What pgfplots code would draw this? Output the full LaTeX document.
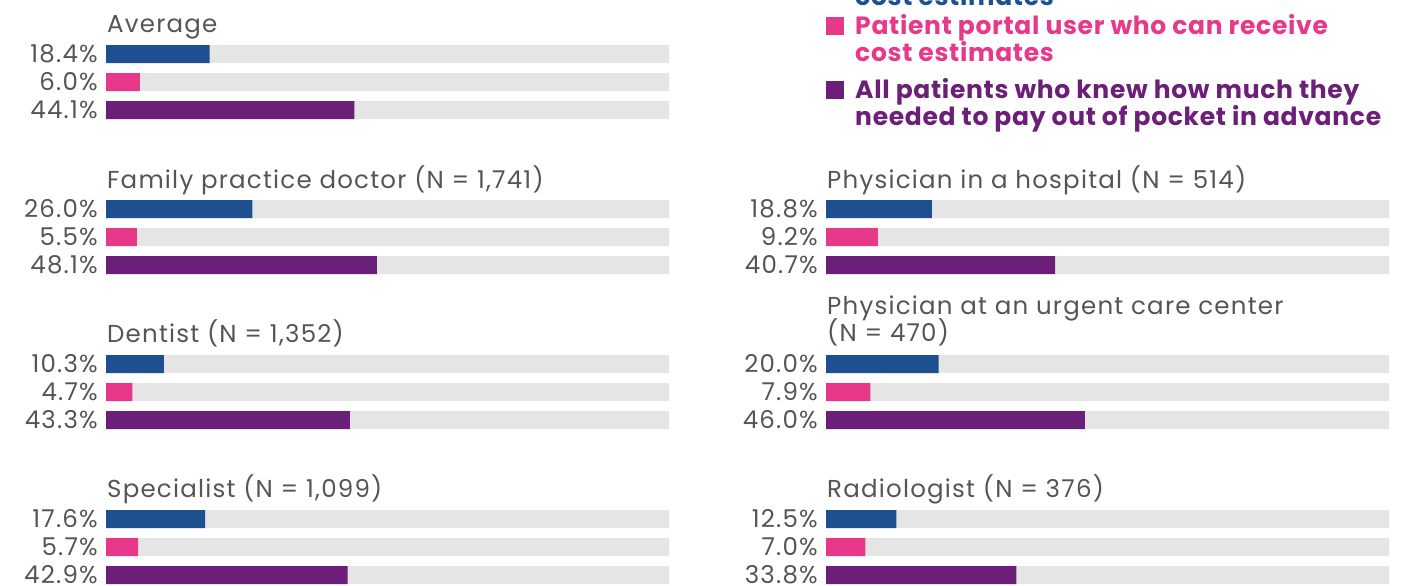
\documentclass[border=0pt]{standalone}
\usepackage{fontspec}
\setmainfont{Poppins}[Numbers=Monospaced]
\newfontfamily\labfont{Poppins}[LetterSpace=5, Numbers=Monospaced]
\newfontfamily\legfont{Poppins Bold}[LetterSpace=2.8]
\usepackage{pgfplots}
\pgfplotsset{compat=1.18}
\definecolor{cblue}{HTML}{1D4F91}
\definecolor{cpink}{HTML}{E8388A}
\definecolor{cpurple}{HTML}{6C1F78}
\definecolor{cbg}{HTML}{E5E5E5}
\definecolor{ctext}{HTML}{555555}

\pgfplotsset{
  panel/.style={
    scale only axis, width=563pt, height=586pt,
    xmin=0, xmax=100, ymin=0, ymax=586, y dir=reverse,
    axis line style={draw=none}, xtick=\empty, major tick length=0pt,
    yticklabel style={font=\labfont\fontsize{24.5}{27}\selectfont, text=ctext, inner sep=0pt, xshift=-8pt},
    clip=false,
  },
  bb/.style={xbar, bar width=18, bar shift=0pt, draw=none},
}
\tikzset{ttl/.style={anchor=base west, inner sep=0pt, xshift=1pt, text=ctext, font=\labfont\fontsize{24.5}{27}\selectfont}}

\begin{document}
\begin{tikzpicture}
% left column
\begin{axis}[panel, at={(106pt,0pt)}, anchor=north west,
  ytick={54,82,110,209,237,265,364,392,420,519,547,575},
  yticklabels={18.4\%,6.0\%,44.1\%,26.0\%,5.5\%,48.1\%,10.3\%,4.7\%,43.3\%,17.6\%,5.7\%,42.9\%}]
\addplot[bb, fill=cbg] coordinates {(100,54) (100,82) (100,110) (100,209) (100,237) (100,265) (100,364) (100,392) (100,420) (100,519) (100,547) (100,575)};
\addplot[bb, fill=cblue] coordinates {(18.4,54) (26.0,209) (10.3,364) (17.6,519)};
\addplot[bb, fill=cpink] coordinates {(6.0,82) (5.5,237) (4.7,392) (5.7,547)};
\addplot[bb, fill=cpurple] coordinates {(44.1,110) (48.1,265) (43.3,420) (42.9,575)};
\node[ttl] at (axis cs:0,32) {Average};
\node[ttl] at (axis cs:0,188) {Family practice doctor (N = 1,741)};
\node[ttl] at (axis cs:0,342) {Dentist (N = 1,352)};
\node[ttl] at (axis cs:0,497) {Specialist (N = 1,099)};
\end{axis}
% right column
\begin{axis}[panel, at={(826pt,0pt)}, anchor=north west,
  ytick={209,237,265,364,392,420,519,547,575},
  yticklabels={18.8\%,9.2\%,40.7\%,20.0\%,7.9\%,46.0\%,12.5\%,7.0\%,33.8\%}]
\addplot[bb, fill=cbg] coordinates {(100,209) (100,237) (100,265) (100,364) (100,392) (100,420) (100,519) (100,547) (100,575)};
\addplot[bb, fill=cblue] coordinates {(18.8,209) (20.0,364) (12.5,519)};
\addplot[bb, fill=cpink] coordinates {(9.2,237) (7.9,392) (7.0,547)};
\addplot[bb, fill=cpurple] coordinates {(40.7,265) (46.0,420) (33.8,575)};
\node[ttl] at (axis cs:0,188) {Physician in a hospital (N = 514)};
\node[ttl] at (axis cs:0,314) {Physician at an urgent care center};
\node[ttl] at (axis cs:0,341) {(N = 470)};
\node[ttl] at (axis cs:0,497) {Radiologist (N = 376)};
\end{axis}
% legend
\begin{scope}[every node/.style={anchor=base west, inner sep=0pt, font=\legfont\fontsize{25}{27}\selectfont}]
\node[text=cblue] at (855pt,-6pt) {cost estimates};
\fill[cpink] (826pt,-17pt) rectangle (844pt,-35pt);
\node[text=cpink] at (855pt,-35pt) {Patient portal user who can receive};
\node[text=cpink] at (855pt,-62pt) {cost estimates};
\fill[cpurple] (826pt,-81pt) rectangle (844pt,-99pt);
\node[text=cpurple] at (855pt,-98pt) {All patients who knew how much they};
\node[text=cpurple] at (855pt,-125pt) {needed to pay out of pocket in advance};
\end{scope}
\pgfresetboundingbox
\useasboundingbox (0pt,0pt) rectangle (1411pt,-586pt);
\end{tikzpicture}
\end{document}
